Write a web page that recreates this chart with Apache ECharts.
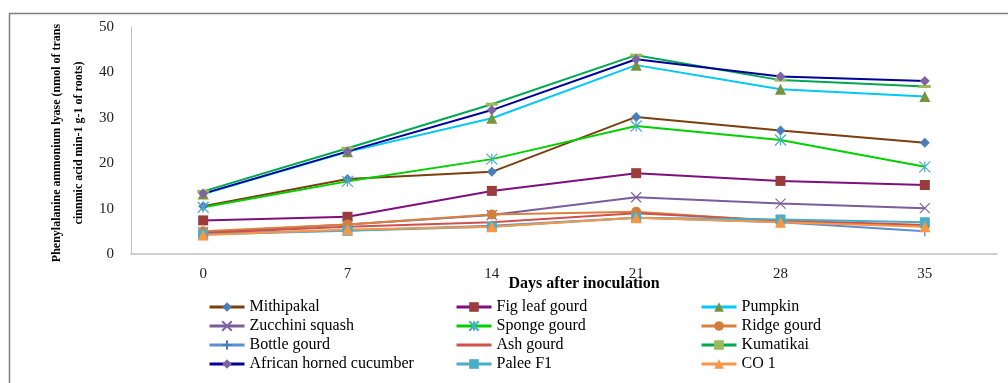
<!DOCTYPE html>
<html><head><meta charset="utf-8">
<script src="https://cdn.jsdelivr.net/npm/echarts@6/dist/echarts.min.js"></script>
<style>html,body{margin:0;padding:0;background:#fff}#c{width:1008px;height:383px}</style>
</head><body><div id="c"></div>
<script>
const days = ['0','7','14','21','28','35'];
const yTicks = [0,10,20,30,40,50];
const mithipakal = [10.5,16.5,18.1,30.2,27.2,24.5];
const figLeafGourd = [7.4,8.2,13.9,17.8,16.1,15.2];
const pumpkin = [13.2,22.5,29.9,41.6,36.3,34.7];
const zucchiniSquash = [4.8,6.5,8.6,12.5,11.1,10.1];
const spongeGourd = [10.3,16.0,20.9,28.2,25.1,19.2];
const ridgeGourd = [5.0,6.5,8.7,9.3,7.2,6.3];
const bottleGourd = [4.5,5.2,6.2,8.0,7.0,5.0];
const ashGourd = [4.6,6.0,7.0,9.0,7.4,6.4];
const kumatikai = [13.8,23.3,33.0,43.8,38.3,36.9];
const africanHornedCucumber = [13.3,22.6,31.7,42.9,39.1,38.1];
const paleeF1 = [4.3,5.1,6.0,8.0,7.6,7.0];
const co1 = [4.2,5.4,6.0,8.0,7.0,6.0];

const X = 'path://M0,0L10,10M10,0L0,10';
const AST = 'path://M0,0L10,10M10,0L0,10M5,0L5,10';
const PLUS = 'path://M5,0L5,10M0,5L10,5';

// name, data, line colour, symbol, marker colour, symbol size, hollow
const defs = [
  ['Mithipakal', mithipakal, '#7B3F0F', 'diamond', '#4A7EBB', 10, false],
  ['Fig leaf gourd', figLeafGourd, '#7F0F7F', 'rect', '#9B3B3B', 10, false],
  ['Pumpkin', pumpkin, '#00C8F8', 'triangle', '#77933C', 11, false],
  ['Zucchini squash', zucchiniSquash, '#7B5D9B', X, '#8064A2', 10, true],
  ['Sponge gourd', spongeGourd, '#00D000', AST, '#4BACC6', 11, true],
  ['Ridge gourd', ridgeGourd, '#D9803F', 'circle', '#D0803C', 10, false],
  ['Bottle gourd', bottleGourd, '#5A8FD6', PLUS, '#4A7EBB', 10, true],
  ['Ash gourd', ashGourd, '#D0504D', 'none', '#C0504D', 0, false],
  ['Kumatikai', kumatikai, '#00A850', 'rect', '#9BBB59', [12, 3], false],
  ['African horned cucumber', africanHornedCucumber, '#00009A', 'diamond', '#8064A2', 10, false],
  ['Palee F1', paleeF1, '#4BACC6', 'rect', '#4BACC6', 10, false],
  ['CO 1', co1, '#F79646', 'triangle', '#F79646', 11, false]
];

const series = defs.map(d => ({
  name: d[0], type: 'line', data: d[1],
  symbol: d[3], symbolSize: d[5], showSymbol: d[3] !== 'none',
  lineStyle: {color: d[2], width: 2},
  itemStyle: d[6] ? {color: 'rgba(0,0,0,0)', borderColor: d[4], borderWidth: 1.2} : {color: d[4]},
  emphasis: {disabled: true},
  animation: false
}));

const font = '"Liberation Serif", "Times New Roman", serif';
const cols = [
  ['Mithipakal','Zucchini squash','Bottle gourd','African horned cucumber'],
  ['Fig leaf gourd','Sponge gourd','Ash gourd','Palee F1'],
  ['Pumpkin','Ridge gourd','Kumatikai','CO 1']
];
const lefts = [208, 455, 700];
const legends = cols.map((c, i) => ({
  id: 'lg' + i,
  orient: 'vertical',
  left: lefts[i],
  top: 299,
  padding: 0,
  itemWidth: 35,
  itemHeight: 12,
  itemGap: 3,
  selectedMode: false,
  lineStyle: {width: 3},
  textStyle: {fontFamily: font, fontSize: 16, color: '#000', lineHeight: 16},
  data: c.map(n => n === 'Ash gourd'
    ? {name: n, itemStyle: {color: 'rgba(0,0,0,0)', borderWidth: 0, opacity: 0}}
    : n)
}));

const chart = echarts.init(document.getElementById('c'), null, {renderer: 'canvas'});
chart.setOption({
  backgroundColor: '#fff',
  animation: false,
  grid: {left: 131, right: 11, top: 27, bottom: 129},
  legend: legends,
  xAxis: {
    type: 'category', data: days, boundaryGap: true,
    axisLine: {lineStyle: {color: '#BFBFBF', width: 1.5}},
    axisTick: {show: false},
    axisLabel: {fontFamily: font, fontSize: 15, color: '#222', margin: 13}
  },
  yAxis: {
    type: 'value', min: yTicks[0], max: yTicks[yTicks.length-1], interval: 10,
    axisLine: {show: true, lineStyle: {color: '#BFBFBF', width: 1}},
    axisTick: {show: false},
    splitLine: {show: false},
    axisLabel: {fontFamily: font, fontSize: 15, color: '#222', margin: 17}
  },
  graphic: [
    {type: 'rect', shape: {x: 9.5, y: 13.5, width: 1100, height: 500}, style: {fill: 'none', stroke: '#808080', lineWidth: 1.5}, silent: true},
    {type: 'text', x: 584, y: 284,
     style: {text: 'Days after inoculation', textAlign: 'center', textVerticalAlign: 'middle',
       font: 'bold 16px "Liberation Serif", serif', fill: '#000'}},
    {type: 'text', x: 68, y: 143, rotation: Math.PI/2,
     style: {text: 'Phenylalanine ammonium lyase (nmol of trans\ncinnmic acid min-1 g-1 of roots)', textAlign: 'center', textVerticalAlign: 'middle',
       font: 'bold 12px "Liberation Serif", serif', fill: '#000', lineHeight: 22}}
  ],
  series: series
});
</script></body></html>
